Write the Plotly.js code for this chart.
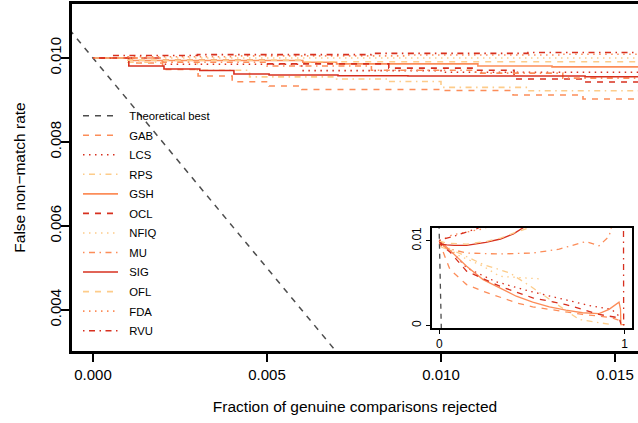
<!DOCTYPE html>
<html>
<head>
<meta charset="utf-8">
<script src="https://cdn.plot.ly/plotly-3.0.1.min.js"></script>
<style>
  html, body { margin: 0; padding: 0; overflow: hidden; background: #fff; }
  #chart { width: 638px; height: 423px; }
</style>
</head>
<body>
<div id="chart"></div>
<script>
// Error-versus-reject curves: FNMR of the remaining genuine comparisons
// after rejecting the lowest-quality fraction, per quality measure.
const methodNames = ['GAB', 'LCS', 'RPS', 'GSH', 'OCL', 'NFIQ', 'MU', 'SIG', 'OFL', 'FDA', 'RVU'];

// Theoretical best: FNMR drops one-for-one with the rejected fraction
const theoFrac = [-0.002, 0.0115];
const theoFnmr = [0.012, -0.0015];

const fracGAB = [0, 0.00113, 0.0020, 0.00302, 0.0040, 0.00506, 0.0060, 0.0101, 0.01207, 0.01408, 0.057, 0.147, 0.236, 0.326, 0.415, 0.504, 0.594, 0.683, 0.773, 0.862, 0.93, 0.97, 0.98];
const fnmrGAB = [0.01, 0.009881, 0.009726, 0.009571, 0.009436, 0.009333, 0.009250, 0.009226, 0.009119, 0.009024, 0.00659, 0.00482, 0.00404, 0.00338, 0.00267, 0.0022, 0.00188, 0.00157, 0.0013, 0.0011, 0.0009, 0.0006, 0.0002];

const fracLCS = [0, 0.002, 0.006, 0.010, 0.06, 0.147, 0.3, 0.487, 0.665, 0.81, 0.93, 0.97, 0.98];
const fnmrLCS = [0.01, 0.00985, 0.0097, 0.00966, 0.0089, 0.0068, 0.0052, 0.00404, 0.00306, 0.00235, 0.00188, 0.0011, 0.0003];

const fracRPS = [0, 0.001, 0.003, 0.0045, 0.007, 0.0085, 0.0100, 0.0125, 0.1, 0.236, 0.38, 0.5, 0.6, 0.755, 0.93];
const fnmrRPS = [0.01, 0.0099, 0.00971, 0.00955, 0.0095, 0.00944, 0.0093, 0.00922, 0.0086, 0.0072, 0.0062, 0.0045, 0.003, 0.0007, 0.0001];

const fracGSH = [0, 0.00106, 0.00603, 0.0070, 0.01106, 0.01319, 0.147, 0.236, 0.326, 0.415, 0.504, 0.594, 0.683, 0.773, 0.862, 0.916, 0.97, 0.978, 0.98, 1.0];
const fnmrGSH = [0.01, 0.00994, 0.00990, 0.00986, 0.00981, 0.00979, 0.00698, 0.00541, 0.00443, 0.00345, 0.00275, 0.0022, 0.0018, 0.0015, 0.0014, 0.0019, 0.00275, 0.0019, 0.0001, 0.0001];

const fracOCL = [0, 0.002, 0.005, 0.0085, 0.011, 0.0121, 0.0141, 0.06, 0.147, 0.326, 0.504, 0.683, 0.862, 0.97, 0.98];
const fnmrOCL = [0.01, 0.00995, 0.00986, 0.00976, 0.00971, 0.0095, 0.00943, 0.0086, 0.0064, 0.00463, 0.00326, 0.00247, 0.0013, 0.0009, 0.0002];

const fracNFIQ = [0, 0.1, 0.236, 0.326, 0.54];
const fnmrNFIQ = [0.01, 0.0083, 0.0070, 0.0058, 0.0055];

const fracMU = [0, 0.002, 0.005, 0.008, 0.011, 0.0135, 0.04, 0.147, 0.326, 0.504, 0.647, 0.79, 0.862, 0.916, 0.93];
const fnmrMU = [0.01, 0.0099, 0.00981, 0.00971, 0.00964, 0.00952, 0.0091, 0.00855, 0.00843, 0.00855, 0.0090, 0.0099, 0.0094, 0.0105, 0.0117];

const fracSIG = [0, 0.00103, 0.00204, 0.00307, 0.00405, 0.00506, 0.00704, 0.00905, 0.01414, 0.02, 0.04, 0.08, 0.147, 0.25, 0.33, 0.40, 0.44, 0.5, 0.6];
const fnmrSIG = [0.01, 0.00981, 0.009738, 0.009702, 0.009619, 0.009595, 0.009579, 0.009571, 0.009555, 0.00954, 0.0095, 0.00946, 0.00945, 0.0098, 0.0102, 0.0108, 0.0114, 0.0122, 0.0135];

const fracOFL = [0, 0.001, 0.006, 0.04, 0.147, 0.25, 0.33, 0.40, 0.48, 0.55];
const fnmrOFL = [0.01, 0.00995, 0.00991, 0.0097, 0.0096, 0.0099, 0.0103, 0.0109, 0.0115, 0.0125];

const fracFDA = [0, 0.001, 0.004, 0.009, 0.0135, 0.07, 0.165, 0.236, 0.3];
const fnmrFDA = [0.01, 0.01003, 0.01005, 0.01007, 0.01009, 0.0107, 0.0111, 0.0114, 0.012];

const fracRVU = [0, 0.0005, 0.003, 0.008, 0.0125, 0.075, 0.129, 0.2, 0.3, 0.994, 0.995];
const fnmrRVU = [0.01, 0.01006, 0.01008, 0.01011, 0.01013, 0.0105, 0.0109, 0.0114, 0.0125, 0.013, 0.0];

const fractions = [fracGAB, fracLCS, fracRPS, fracGSH, fracOCL, fracNFIQ, fracMU, fracSIG, fracOFL, fracFDA, fracRVU];
const fnmrs = [fnmrGAB, fnmrLCS, fnmrRPS, fnmrGSH, fnmrOCL, fnmrNFIQ, fnmrMU, fnmrSIG, fnmrOFL, fnmrFDA, fnmrRVU];

// Styling: three OrRd shades and four line types, cycled
const shades = ['#FC8D59', '#D7301F', '#FDCC8A'];
const dashes = ['6px,6px', '1.5px,4.5px', '1.5px,4.5px,6px,4.5px', 'solid'];
const FONT = 'Liberation Sans, Arial, Helvetica, sans-serif';
const PAD = '\u00a0\u00a0'; // gap between legend key and label

const traces = [];
traces.push({
  x: theoFrac, y: theoFnmr, name: PAD + 'Theoretical best', mode: 'lines',
  xaxis: 'x', yaxis: 'y', legendgroup: 'g0',
  line: { color: '#4D4D4D', width: 1.5, dash: '6px,6px' }
});
methodNames.forEach((name, i) => {
  traces.push({
    x: fractions[i], y: fnmrs[i], name: PAD + name, mode: 'lines',
    xaxis: 'x', yaxis: 'y', legendgroup: 'g' + (i + 1),
    line: { color: shades[i % 3], width: 1.6, dash: dashes[i % 4], shape: 'hv' }
  });
});
// Inset: the full reject range
traces.push({
  x: theoFrac, y: theoFnmr, mode: 'lines', showlegend: false,
  xaxis: 'x2', yaxis: 'y2', hoverinfo: 'skip',
  line: { color: '#4D4D4D', width: 1.3, dash: '5px,5px' }
});
methodNames.forEach((name, i) => {
  traces.push({
    x: fractions[i], y: fnmrs[i], name: name, mode: 'lines', showlegend: false,
    xaxis: 'x2', yaxis: 'y2',
    line: { color: shades[i % 3], width: 1.3, dash: dashes[i % 4] }
  });
});

const mainAxis = {
  showgrid: false, zeroline: false, showline: true, linecolor: '#000', linewidth: 3,
  ticks: 'outside', ticklen: 8, tickwidth: 1.5, tickcolor: '#000',
  tickfont: { family: FONT, size: 15, color: '#000' }, tickformat: '.3f'
};

const layout = {
  width: 638, height: 423,
  margin: { l: 72, r: 0, t: 4, b: 72 },
  paper_bgcolor: '#fff', plot_bgcolor: '#fff',
  font: { family: FONT, color: '#000' },
  xaxis: Object.assign({}, mainAxis, {
    range: [-0.000603, 0.015661], tickvals: [0, 0.005, 0.010, 0.015],
    mirror: true,
    title: { text: 'Fraction of genuine comparisons rejected', font: { family: FONT, size: 15.5 }, standoff: 20 }
  }),
  yaxis: Object.assign({}, mainAxis, {
    range: [0.003024, 0.011286], tickvals: [0.004, 0.006, 0.008, 0.010], tickangle: -90,
    ticklabelstandoff: -6,
    title: { text: 'False non\u2212match rate', font: { family: FONT, size: 15.5 }, standoff: 18 }
  }),
  xaxis2: {
    domain: [0.636, 0.9894], anchor: 'y2', range: [-0.04, 1.04],
    showgrid: false, zeroline: false, showline: true, mirror: true, linecolor: '#000', linewidth: 2,
    ticks: 'outside', ticklen: 4, tickwidth: 1.2, tickcolor: '#000',
    tickvals: [0, 1], ticktext: ['0', '1'], tickfont: { family: FONT, size: 12, color: '#000' }
  },
  yaxis2: {
    domain: [0.0663, 0.3545], anchor: 'x2', range: [-0.0003, 0.0115],
    showgrid: false, zeroline: false, showline: true, mirror: true, linecolor: '#000', linewidth: 2,
    ticks: 'outside', ticklen: 4, tickwidth: 1.2, tickcolor: '#000', tickangle: -90,
    tickvals: [0, 0.01], ticktext: ['0', '0.01'], tickfont: { family: FONT, size: 12, color: '#000' }
  },
  showlegend: true,
  legend: {
    x: 0.0106, y: 0.72, xanchor: 'left', yanchor: 'top',
    bgcolor: 'rgba(0,0,0,0)', borderwidth: 0,
    font: { family: FONT, size: 11.3, color: '#000' },
    tracegroupgap: 0.55, itemwidth: 35, traceorder: 'grouped'
  }
};

Plotly.newPlot('chart', traces, layout, { staticPlot: true, displayModeBar: false });
</script>
</body>
</html>
